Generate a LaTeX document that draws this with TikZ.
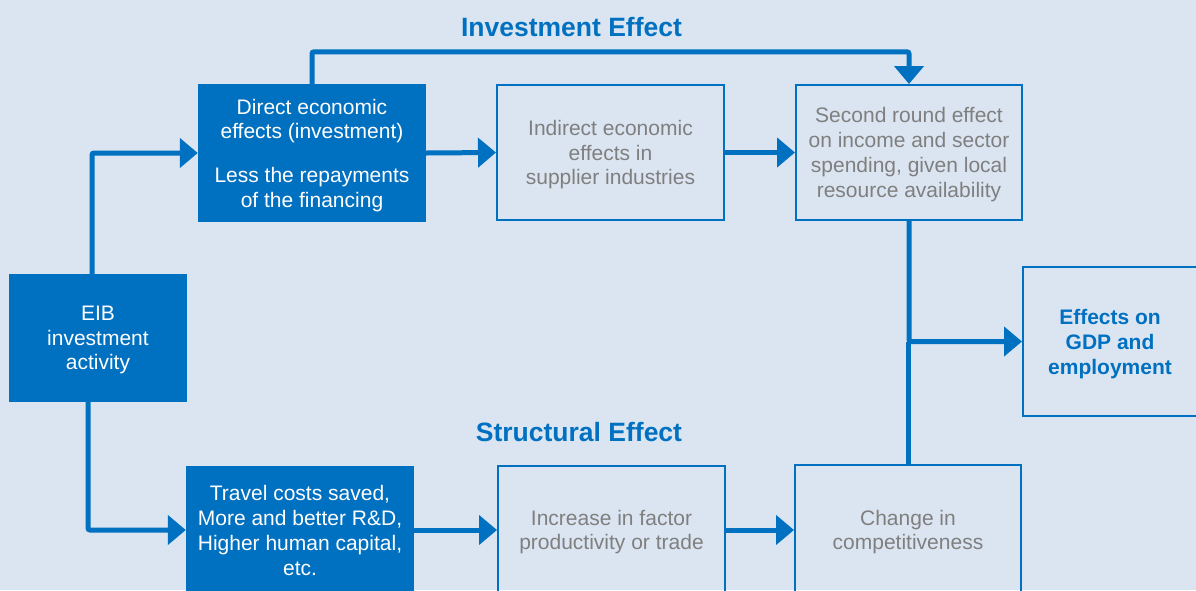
\documentclass[tikz,border=0pt]{standalone}
\usepackage{fontspec}
\setmainfont{Liberation Sans}
\usetikzlibrary{arrows.meta,calc}
\definecolor{bgc}{HTML}{DBE5F1}
\definecolor{eibblue}{HTML}{0070C0}
\definecolor{txtgray}{HTML}{7F7F7F}
\begin{document}
\begin{tikzpicture}[x=1pt,y=-1pt,
  boxfont/.style={font=\fontsize{21}{24.5}\selectfont},
  solidbox/.style={rectangle, fill=eibblue, draw=none, text=white, align=center, boxfont, inner sep=0pt, text depth=-1.5pt},
  linebox/.style={rectangle, draw=eibblue, line width=2pt, text=txtgray, align=center, boxfont, inner sep=0pt, text depth=-1.5pt},
  flow/.style={draw=eibblue, line width=5pt, rounded corners=2pt, -{Triangle[length=18pt,width=29pt]}},
  plainflow/.style={draw=eibblue, line width=5pt},
  title/.style={text=eibblue, font=\bfseries\fontsize{26.5}{30}\selectfont, inner sep=0pt}]
\useasboundingbox (0,0) rectangle (1196,590);
\fill[bgc] (0,0) rectangle (1196,590);
\clip (0,0) rectangle (1196,590);

\node[title] (ttop) at (571.5,27) {Investment Effect};
\node[title] (tbot) at (579,432) {Structural Effect};

\node[solidbox, minimum width=178pt, minimum height=128pt] (eib) at (98,338) {EIB\\investment\\activity};
\node[solidbox, minimum width=228pt, minimum height=138pt] (direct) at (312,153)
  {Direct economic\\effects (investment)\\[19.5pt]Less the repayments\\of the financing};
\node[linebox, minimum width=227pt, minimum height=135pt] (indirect) at (610.5,152.5)
  {Indirect economic\\effects in\\supplier industries};
\node[linebox, minimum width=226pt, minimum height=135pt, font=\fontsize{21}{25}\selectfont] (second) at (909,152.5)
  {Second round effect\\on income and sector\\spending, given local\\resource availability};
\node[linebox, minimum width=174pt, minimum height=149pt, text=eibblue, font=\bfseries\fontsize{21}{25}\selectfont] (effects) at (1110,341.5)
  {Effects on\\GDP and\\employment};
\node[solidbox, text depth=, minimum width=228pt, minimum height=128pt, font=\fontsize{21}{25}\selectfont] (travel) at (300,530)
  {Travel costs saved,\\More and better R\&D,\\Higher human capital,\\etc.};
\node[linebox, minimum width=227pt, minimum height=128pt] (increase) at (611.5,530)
  {Increase in factor\\productivity or trade};
\node[linebox, minimum width=226pt, minimum height=130pt] (change) at (908,530)
  {Change in\\competitiveness};

\draw[flow] ([xshift=-6pt]eib.north) |- (direct.west);
\draw[flow] ([xshift=-10pt]eib.south) |- (travel.west);
\draw[flow] (direct.east) -- (indirect.west);
\draw[flow] (indirect.east) -- (second.west);
\draw[flow] (direct.north) -- ++(0,-32) -| (second.north);
\draw[flow] (second.south) |- (effects.west);
\draw[plainflow] (change.north) -- (change.north |- effects.west);
\draw[flow] (travel.east) -- (increase.west);
\draw[flow] (increase.east) -- (change.west);
\end{tikzpicture}
\end{document}
